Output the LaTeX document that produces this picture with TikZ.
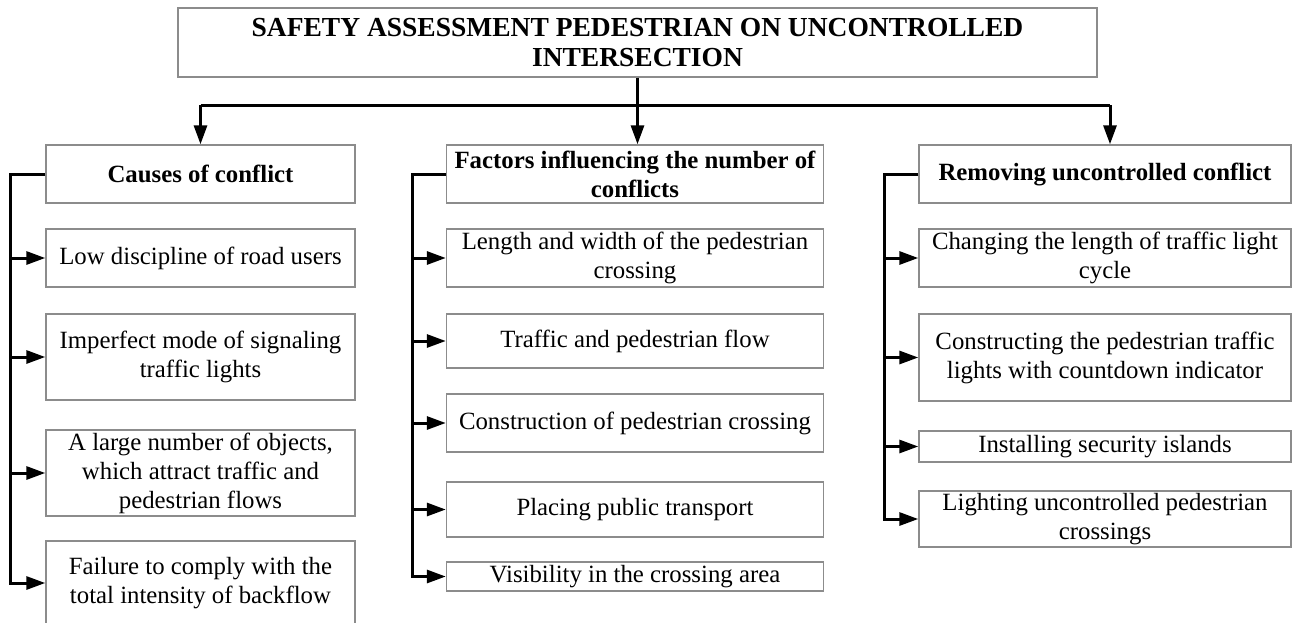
\documentclass[tikz,border=0pt]{standalone}
\usepackage{fontspec}
\setmainfont{Liberation Serif}
\usetikzlibrary{arrows.meta,calc}
\definecolor{boxgray}{HTML}{8C8C8C}
\tikzset{
    every node/.style={font=\fontsize{24.8}{29}\selectfont},
    itembox/.style={draw=boxgray,line width=1.4pt,align=center,inner sep=1pt},
    headbox/.style={itembox,font=\fontsize{24.8}{29}\selectfont\bfseries},
    titlebox/.style={itembox,font=\fontsize{27.5}{30}\selectfont\bfseries},
    boxsize/.style 2 args={minimum width=#1pt,minimum height=#2pt},
    link/.style={draw,line width=3pt},
    arrow/.style={link,-{Triangle[length=19pt,width=13pt]}}
}
\begin{document}
\begin{tikzpicture}[x=1pt,y=-1pt]
\useasboundingbox (0,0) rectangle (1293,622);

% title
\node[titlebox,boxsize={919}{69}] (title) at (637.5,42.5)
    {SAFETY ASSESSMENT PEDESTRIAN ON UNCONTROLLED\\INTERSECTION};

% causes
\node[headbox,boxsize={309}{58}] (causes) at (200.5,174) {Causes of conflict};
\node[itembox,boxsize={309}{58}] (lowdisc) at (200.5,258) {Low discipline of road users};
\node[itembox,boxsize={309}{86}] (imperfect) at (200.5,357) {Imperfect mode of signaling\\traffic lights};
\node[itembox,boxsize={309}{86}] (objects) at (200.5,473) {A large number of objects,\\which attract traffic and\\pedestrian flows};
\node[itembox,boxsize={309}{84}] (failure) at (200.5,583) {Failure to comply with the\\total intensity of backflow};

% factors
\node[headbox,boxsize={377}{58}] (factors) at (635,174) {Factors influencing the number of\\conflicts};
\node[itembox,boxsize={377}{58}] (crosslen) at (635,258) {Length and width of the pedestrian\\crossing};
\node[itembox,boxsize={377}{54}] (flow) at (635,341) {Traffic and pedestrian flow};
\node[itembox,boxsize={377}{58}] (construct) at (635,423) {Construction of pedestrian crossing};
\node[itembox,boxsize={377}{55}] (transport) at (635,509.5) {Placing public transport};
\node[itembox,boxsize={377}{29}] (visibility) at (635,576.5) {Visibility in the crossing area};

% removing
\node[headbox,boxsize={372}{58}] (removing) at (1105,174) {Removing uncontrolled conflict};
\node[itembox,boxsize={372}{58}] (cycle) at (1105,258) {Changing the length of traffic light\\cycle};
\node[itembox,boxsize={372}{87}] (countdown) at (1105,357.5) {Constructing the pedestrian traffic\\lights with countdown indicator};
\node[itembox,boxsize={372}{31}] (islands) at (1105,446.5) {Installing security islands};
\node[itembox,boxsize={372}{56}] (lighting) at (1105,519) {Lighting uncontrolled pedestrian\\crossings};

% bus from title
\coordinate (bus) at (637.5,105);
\coordinate (busend) at (1110,105);
\draw[link] (title.south) -- (bus);
\draw[link] (causes.north |- bus) -- (busend);
\draw[arrow] (causes.north |- bus) -- (causes.north);
\draw[arrow] (bus) -- (bus |- factors.north);
\draw[arrow] (busend) -- (busend |- removing.north);

% brackets
\coordinate (bar1) at (10,0);
\coordinate (bar2) at (412,0);
\coordinate (bar3) at (884,0);
\draw[arrow] (causes.west) -- (causes.west -| bar1) -- (failure.west -| bar1) -- (failure.west);
\foreach \n in {lowdisc,imperfect,objects}
    \draw[arrow] (\n.west -| bar1) -- (\n.west);
\draw[arrow] (factors.west) -- (factors.west -| bar2) -- (visibility.west -| bar2) -- (visibility.west);
\foreach \n in {crosslen,flow,construct,transport}
    \draw[arrow] (\n.west -| bar2) -- (\n.west);
\draw[arrow] (removing.west) -- (removing.west -| bar3) -- (lighting.west -| bar3) -- (lighting.west);
\foreach \n in {cycle,countdown,islands}
    \draw[arrow] (\n.west -| bar3) -- (\n.west);
\end{tikzpicture}
\end{document}
